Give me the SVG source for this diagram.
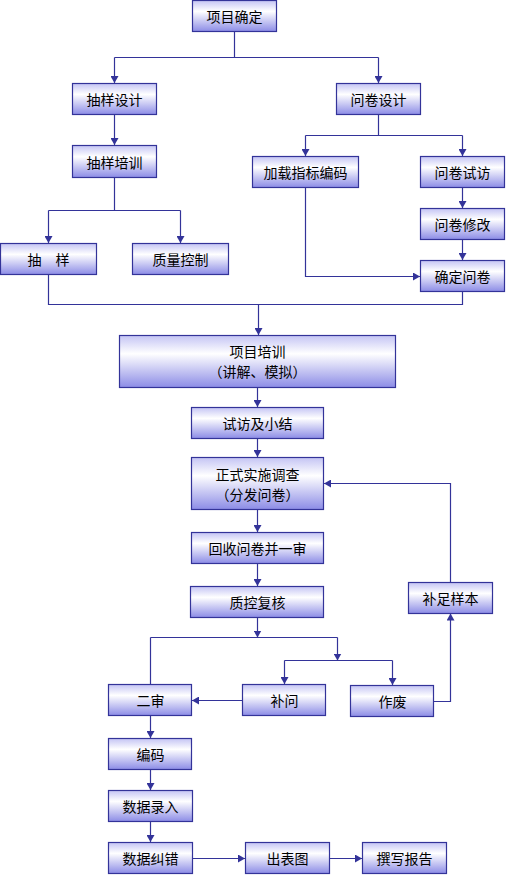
<svg xmlns="http://www.w3.org/2000/svg" width="506" height="875" viewBox="0 0 506 875">
<defs>
<linearGradient id="g" x1="0" y1="0" x2="0" y2="1">
<stop offset="0" stop-color="#c4c4f4"/>
<stop offset="0.35" stop-color="#ffffff"/>
<stop offset="1" stop-color="#8c8ce6"/>
</linearGradient>
<marker id="a" markerUnits="userSpaceOnUse" markerWidth="8" markerHeight="8" refX="7" refY="4" orient="auto">
<path d="M0,0 L7,4 L0,8 z" fill="#333399"/>
</marker>
<style>
.b rect{fill:url(#g);stroke:#333399;stroke-width:1.2}
.b text{font-family:"Noto Sans CJK SC","Noto Sans CJK JP",sans-serif;font-size:14px;fill:#000;text-anchor:middle;dominant-baseline:central}
#c path{fill:none;stroke:#333399;stroke-width:1.2}
#c path.m{marker-end:url(#a)}
</style>
</defs>
<rect width="506" height="875" fill="#ffffff"/>
<g id="c">
<path d="M234.5,31.5 V57.5 M114.5,57.5 H378.5"/>
<path class="m" d="M114.5,57.5 V83"/>
<path class="m" d="M378.5,57.5 V83"/>
<path class="m" d="M114.5,114.5 V145"/>
<path d="M114.5,177.5 V210.5 M48.5,210.5 H180.5"/>
<path class="m" d="M48.5,210.5 V243"/>
<path class="m" d="M180.5,210.5 V243"/>
<path d="M378.5,114.5 V135.5 M305.5,135.5 H462.5"/>
<path class="m" d="M305.5,135.5 V156"/>
<path class="m" d="M462.5,135.5 V156"/>
<path class="m" d="M462.5,187.5 V208"/>
<path class="m" d="M462.5,239.5 V260"/>
<path class="m" d="M305.5,187.5 V276.5 H420"/>
<path d="M462.5,291.5 V304.5 H258.5 M48.5,274.5 V304.5 H258.5"/>
<path class="m" d="M258.5,304.5 V335"/>
<path class="m" d="M257.5,387.5 V407"/>
<path class="m" d="M257.5,438.5 V457"/>
<path class="m" d="M257.5,509.5 V532"/>
<path class="m" d="M257.5,563.5 V586"/>
<path class="m" d="M257.5,617.5 V637.5"/>
<path d="M150.5,637.5 H337.5 M150.5,637.5 V684.5"/>
<path class="m" d="M337.5,637.5 V660.5"/>
<path d="M284.5,660.5 H392.5"/>
<path class="m" d="M284.5,660.5 V684"/>
<path class="m" d="M392.5,660.5 V685"/>
<path class="m" d="M242.5,700.5 H192"/>
<path class="m" d="M433.5,701.5 H450.5 V613.5"/>
<path class="m" d="M450.5,582.5 V483.5 H324"/>
<path class="m" d="M150.5,715.5 V738"/>
<path class="m" d="M150.5,769.5 V790"/>
<path class="m" d="M150.5,821.5 V842"/>
<path class="m" d="M192.5,858.5 H245"/>
<path class="m" d="M329.5,858.5 H362"/>
</g>
<g id="n1" class="b"><rect x="192.5" y="0.5" width="84" height="31"/><text x="234.5" y="16">项目确定</text></g>
<g id="n2" class="b"><rect x="72.5" y="83.5" width="84" height="31"/><text x="114.5" y="99">抽样设计</text></g>
<g id="n3" class="b"><rect x="72.5" y="145.5" width="84" height="32"/><text x="114.5" y="161.5">抽样培训</text></g>
<g id="n4" class="b"><rect x="336.5" y="83.5" width="84" height="31"/><text x="378.5" y="99">问卷设计</text></g>
<g id="n5" class="b"><rect x="252.5" y="156.5" width="106" height="31"/><text x="305.5" y="172">加载指标编码</text></g>
<g id="n6" class="b"><rect x="420.5" y="156.5" width="84" height="31"/><text x="462.5" y="172">问卷试访</text></g>
<g id="n7" class="b"><rect x="420.5" y="208.5" width="84" height="31"/><text x="462.5" y="224">问卷修改</text></g>
<g id="n8" class="b"><rect x="420.5" y="260.5" width="84" height="31"/><text x="462.5" y="276">确定问卷</text></g>
<g id="n9" class="b"><rect x="0.5" y="243.5" width="96" height="31"/><text x="48.5" y="259">抽　样</text></g>
<g id="n10" class="b"><rect x="132.5" y="243.5" width="96" height="31"/><text x="180.5" y="259">质量控制</text></g>
<g id="n11" class="b"><rect x="119.5" y="335.5" width="276" height="52"/><text x="257.5" y="351">项目培训</text><text x="257.5" y="371">（讲解、模拟）</text></g>
<g id="n12" class="b"><rect x="191.5" y="407.5" width="132" height="31"/><text x="257.5" y="423">试访及小结</text></g>
<g id="n13" class="b"><rect x="191.5" y="457.5" width="132" height="52"/><text x="257.5" y="473.5">正式实施调查</text><text x="257.5" y="493.5">（分发问卷）</text></g>
<g id="n14" class="b"><rect x="191.5" y="532.5" width="132" height="31"/><text x="257.5" y="548">回收问卷并一审</text></g>
<g id="n15" class="b"><rect x="190.5" y="586.5" width="133" height="31"/><text x="257.5" y="602">质控复核</text></g>
<g id="n16" class="b"><rect x="408.5" y="582.5" width="84" height="31"/><text x="450.5" y="598">补足样本</text></g>
<g id="n17" class="b"><rect x="108.5" y="684.5" width="83" height="31"/><text x="150.5" y="700">二审</text></g>
<g id="n18" class="b"><rect x="242.5" y="684.5" width="83" height="31"/><text x="284.5" y="700">补问</text></g>
<g id="n19" class="b"><rect x="350.5" y="685.5" width="83" height="31"/><text x="392.5" y="701">作废</text></g>
<g id="n20" class="b"><rect x="108.5" y="738.5" width="83" height="31"/><text x="150.5" y="754">编码</text></g>
<g id="n21" class="b"><rect x="108.5" y="790.5" width="84" height="31"/><text x="150.5" y="806">数据录入</text></g>
<g id="n22" class="b"><rect x="108.5" y="842.5" width="84" height="31"/><text x="150.5" y="858">数据纠错</text></g>
<g id="n23" class="b"><rect x="245.5" y="842.5" width="84" height="31"/><text x="287.5" y="858">出表图</text></g>
<g id="n24" class="b"><rect x="362.5" y="842.5" width="84" height="31"/><text x="404.5" y="858">撰写报告</text></g>
</svg>
